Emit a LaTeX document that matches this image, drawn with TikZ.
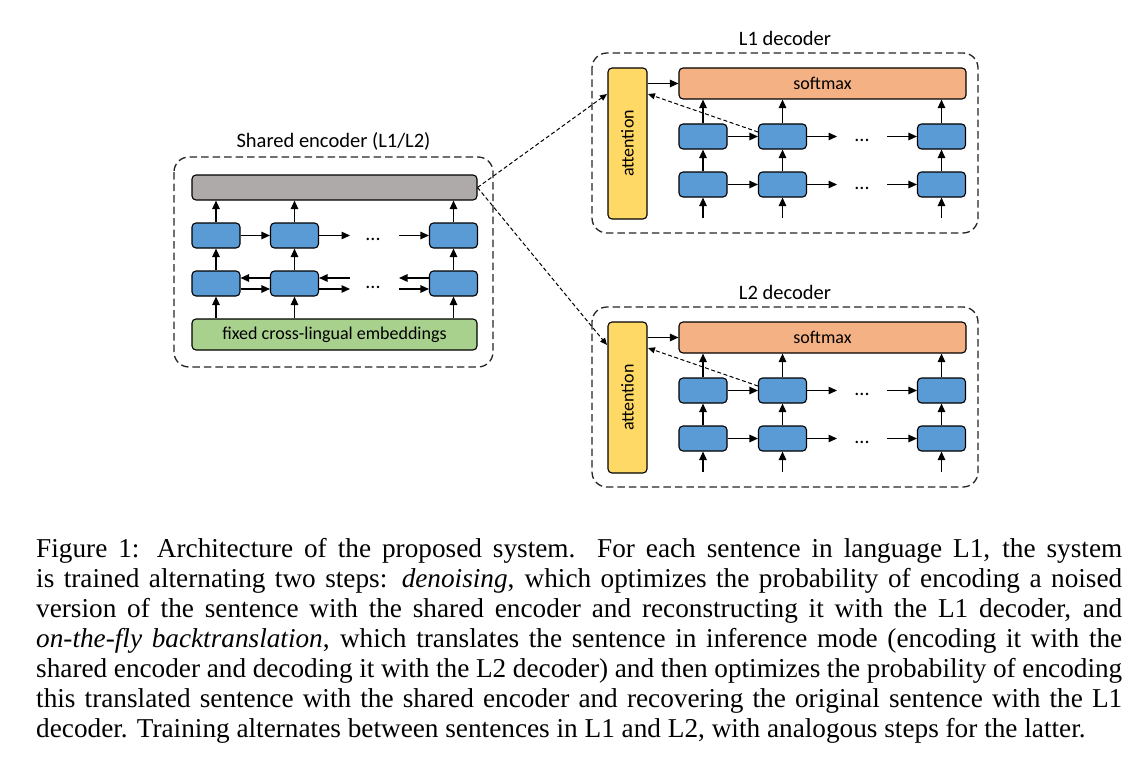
\documentclass[tikz,border=0pt]{standalone}
\usepackage{fontspec}
\setmainfont{Liberation Serif}
\newfontfamily\calfont{Carlito}
\usetikzlibrary{arrows.meta,calc}
\definecolor{cblue}{HTML}{5B9BD5}
\definecolor{cgreen}{HTML}{A9D18E}
\definecolor{corange}{HTML}{F4B183}
\definecolor{cyellow}{HTML}{FFD966}
\definecolor{cgray}{HTML}{AEAAAA}
\definecolor{cdash}{HTML}{262626}

\newcommand\mydecoder[3]{%
\begin{scope}[shift={(0,#2)}]
  \draw[dbox] (592,53) rectangle (978,233);
  \node[ttl] (#1title) at (785,38) {#3};
  \node[box, fill=cyellow, minimum width=39pt, minimum height=151pt] (#1att) at (627.5,143.5) {};
  \node[lbl, rotate=90] (#1attlbl) at (#1att.center) {attention};
  \node[box, fill=corange, minimum width=287pt, minimum height=31pt] (#1sm) at (822.5,83.5) {};
  \node[lbl] (#1smlbl) at (#1sm.center) {softmax};
  \node[cell] (#1a1) at (703,136.5) {};
  \node[cell] (#1a2) at (782.5,136.5) {};
  \node[cell] (#1a3) at (941.5,136.5) {};
  \node[cell] (#1b1) at (703,184.5) {};
  \node[cell] (#1b2) at (782.5,184.5) {};
  \node[cell] (#1b3) at (941.5,184.5) {};
  \node[dots] (#1dotsA) at (862,140.5) {...};
  \node[dots] (#1dotsB) at (862,188.5) {...};
  \coordinate (#1in1) at (703,218);
  \coordinate (#1in2) at (782.5,218);
  \coordinate (#1in3) at (941.5,218);
  \coordinate (#1ra) at (837,136.5);
  \coordinate (#1la) at (887,136.5);
  \coordinate (#1rb) at (837,184.5);
  \coordinate (#1lb) at (887,184.5);
  \coordinate (#1dstart) at (758,132);
  \coordinate (#1dend) at (648,94);
  \foreach \i in {1,2,3}{
    \draw[arr] (#1in\i) -- (#1b\i.south);
    \draw[arr] (#1b\i.north) -- (#1a\i.south);
    \draw[arr] (#1a\i.north) -- (#1a\i.north |- #1sm.south);
  }
  \draw[arr] (#1a1.east) -- (#1a2.west);
  \draw[arr] (#1a2.east) -- (#1ra);
  \draw[arr] (#1la) -- (#1a3.west);
  \draw[arr] (#1b1.east) -- (#1b2.west);
  \draw[arr] (#1b2.east) -- (#1rb);
  \draw[arr] (#1lb) -- (#1b3.west);
  \draw[arr] (#1att.east |- #1sm.west) -- (#1sm.west);
  \draw[darr] (#1dstart) -- (#1dend);
\end{scope}}

\begin{document}
\begin{tikzpicture}[x=1pt,y=-1pt,
  box/.style={draw=black, line width=1.1pt, rounded corners=4pt, inner sep=0pt},
  cell/.style={box, fill=cblue, minimum width=48pt, minimum height=25pt},
  lbl/.style={font=\calfont\fontsize{18}{20}\selectfont, inner sep=0pt},
  dots/.style={font=\calfont\fontsize{20}{22}\selectfont, inner sep=0pt},
  ttl/.style={font=\calfont\fontsize{20.5}{23}\selectfont, inner sep=0pt},
  arr/.style={line width=1.3pt, -{Triangle[length=8.5pt,width=7.5pt]}},
  darr/.style={line width=1pt, dash pattern=on 4pt off 2.5pt, -{Triangle[length=7pt,width=6pt]}},
  dbox/.style={draw=cdash, line width=1.3pt, dash pattern=on 7.5pt off 4pt, rounded corners=15pt}
]
\useasboundingbox (0,0) rectangle (1148,765);
\fill[white] (0,0) rectangle (1148,765);

% ---------- Shared encoder ----------
\draw[dbox] (174,157) rectangle (493,367);
\node[ttl] (enctitle) at (333.5,141) {Shared encoder (L1/L2)};
\node[box, fill=cgray, minimum width=285pt, minimum height=25pt] (bar) at (334.5,187.5) {};
\node[box, fill=cgreen, minimum width=285pt, minimum height=31pt] (emb) at (334.5,334.5) {};
\node[lbl] (emblbl) at (emb.center) {fixed cross-lingual embeddings};
\node[cell] (e11) at (216,235.5) {};
\node[cell] (e12) at (294.5,235.5) {};
\node[cell] (e13) at (453.5,235.5) {};
\node[cell] (e21) at (216,283.5) {};
\node[cell] (e22) at (294.5,283.5) {};
\node[cell] (e23) at (453.5,283.5) {};
\node[dots] (edotsA) at (373,239.5) {...};
\node[dots] (edotsB) at (373,287.5) {...};
\foreach \i in {1,2,3}{
  \draw[arr] (emb.north -| e2\i) -- (e2\i.south);
  \draw[arr] (e2\i.north) -- (e1\i.south);
  \draw[arr] (e1\i.north) -- (bar.south -| e1\i);
}
\coordinate (er1) at (350,235.5);
\coordinate (el1) at (399,235.5);
\draw[arr] (e11.east) -- (e12.west);
\draw[arr] (e12.east) -- (er1);
\draw[arr] (el1) -- (e13.west);
\coordinate (eu1) at (350,278);
\coordinate (ed1) at (350,289);
\coordinate (eu2) at (399,278);
\coordinate (ed2) at (399,289);
\draw[arr] ($(e22.west)+(0,-5.5)$) -- ($(e21.east)+(0,-5.5)$);
\draw[arr] ($(e21.east)+(0,5.5)$) -- ($(e22.west)+(0,5.5)$);
\draw[arr] (eu1) -- ($(e22.east)+(0,-5.5)$);
\draw[arr] ($(e22.east)+(0,5.5)$) -- (ed1);
\draw[arr] ($(e23.west)+(0,-5.5)$) -- (eu2);
\draw[arr] (ed2) -- ($(e23.west)+(0,5.5)$);

% ---------- Decoders ----------
\mydecoder{L1}{0}{L1 decoder}
\mydecoder{L2}{254}{L2 decoder}

% ---------- Encoder to decoders ----------
\coordinate (encout) at (477.5,187.5);
\coordinate (L1attin) at (607,94);
\coordinate (L2attin) at (607,345);
\draw[darr] (encout) -- (L1attin);
\draw[darr] (encout) -- (L2attin);

% ---------- Caption ----------
\node[anchor=north west, inner sep=0pt, text width=1086pt, align=justify,
      font=\fontsize{27.25}{30}\selectfont] (caption) at (36,538)
{Figure 1: Architecture of the proposed system. For each sentence in language L1, the system\linebreak
is trained alternating two steps: \emph{denoising}, which optimizes the probability of encoding a noised\linebreak
version of the sentence with the shared encoder and reconstructing it with the L1 decoder, and\linebreak
\emph{on-the-fly backtranslation}, which translates the sentence in inference mode (encoding it with the\linebreak
shared encoder and decoding it with the L2 decoder) and then optimizes the probability of encoding\linebreak
this translated sentence with the shared encoder and recovering the original sentence with the L1\linebreak
decoder. Training alternates between sentences in L1 and L2, with analogous steps for the latter.};
\end{tikzpicture}
\end{document}
